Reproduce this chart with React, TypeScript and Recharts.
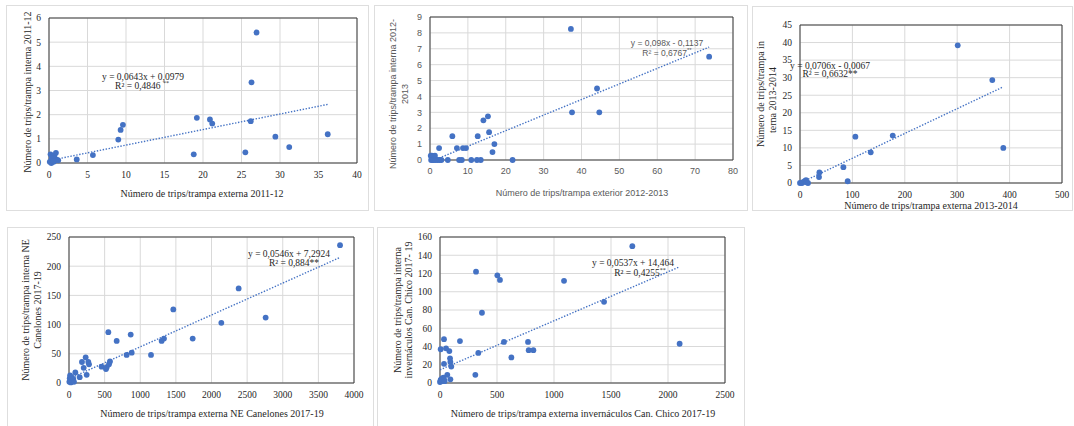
import { CartesianGrid, ReferenceArea, ReferenceLine, Scatter, ScatterChart, XAxis, YAxis } from "recharts"

const BLUE = "#4472C4"
const SERIF = '"Liberation Serif", "Times New Roman", serif'
const SANS = '"Liberation Sans", Arial, sans-serif'

// 2011-12
const x2011 = [0.1, 0.2, 0.3, 0.4, 0.5, 0.6, 0.7, 0.8, 0.9, 1.0, 1.2, 0.35, 0.55, 3.6, 5.7, 9.0, 9.3, 9.6, 18.8, 19.2, 20.9, 21.2, 25.5, 26.2, 26.3, 26.95, 29.4, 31.2, 36.2]
const y2011 = [0.05, 0.36, 0.0, 0.12, 0.25, 0.05, 0.3, 0.1, 0.42, 0.14, 0.11, 0.2, 0.08, 0.15, 0.33, 0.97, 1.37, 1.58, 0.36, 1.87, 1.8, 1.63, 0.44, 1.73, 3.34, 5.4, 1.09, 0.66, 1.19]
const xTicks2011 = [0, 5, 10, 15, 20, 25, 30, 35, 40]
const yTicks2011 = [0, 1, 2, 3, 4, 5, 6]

// 2012-2013
const x2012 = [0.2, 0.5, 0.9, 1.3, 0.3, 0.7, 1.0, 1.5, 2.0, 2.5, 3.0, 2.4, 4.7, 5.9, 7.1, 7.7, 8.4, 8.7, 9.5, 10.9, 12.4, 12.6, 13.4, 14.1, 15.3, 15.6, 16.5, 17.0, 21.8, 37.2, 37.5, 44.1, 44.7, 73.7]
const y2012 = [0.27, 0.27, 0.25, 0.27, 0, 0, 0, 0, 0, 0, 0, 0.75, 0, 1.5, 0.75, 0, 0, 0.75, 0.75, 0, 0, 1.5, 0, 2.5, 2.75, 1.75, 0.5, 1.0, 0, 8.25, 3.0, 4.5, 3.0, 6.5]
const xTicks2012 = [0, 10, 20, 30, 40, 50, 60, 70, 80]
const yTicks2012 = [0, 1, 2, 3, 4, 5, 6, 7, 8, 9]

// 2013-2014
const x2013 = [0, 3.8, 6.4, 9.6, 11.5, 12.7, 15.3, 36.3, 37, 82.8, 91, 105.7, 135, 177, 301, 367, 388]
const y2013 = [0, 0, 0.3, 0.6, 0.8, 0.2, 0, 1.7, 3.0, 4.5, 0.5, 13.2, 8.75, 13.5, 39.2, 29.3, 10.0]
const xTicks2013 = [0, 100, 200, 300, 400, 500]
const yTicks2013 = [0, 5, 10, 15, 20, 25, 30, 35, 40, 45]

// NE Canelones 2017-19
const xNE = [5, 10, 15, 20, 25, 30, 40, 50, 60, 70, 35, 89, 150, 182, 206, 234, 248, 271, 281, 458, 519, 529, 552, 561, 575, 669, 809, 866, 880, 1151, 1300, 1333, 1464, 1736, 2138, 2381, 2760, 3804]
const yNE = [2, 8, 13, 4, 1, 6, 3, 5, 7, 2, 10, 18, 10, 36, 26, 44, 14, 36, 32, 28, 24, 27, 87, 32, 37, 72, 48, 83, 52, 48, 72, 76, 126, 76, 103, 162, 112, 236]
const xTicksNE = [0, 500, 1000, 1500, 2000, 2500, 3000, 3500, 4000]
const yTicksNE = [0, 50, 100, 150, 200, 250]

// invernáculos Can. Chico 2017-19
const xCC = [0, 5, 10, 15, 20, 25, 30, 35, 40, 6, 35, 35, 53, 64, 82, 88, 91, 99, 91, 175, 310, 316, 336, 368, 503, 526, 561, 626, 772, 778, 819, 1088, 1439, 1687, 2102]
const yCC = [1, 3, 4, 2, 5, 3, 6, 4, 2, 37, 48, 21, 38, 9, 35, 27, 23, 18, 4, 46, 9, 122, 33, 77, 118, 113, 45, 28, 45, 36, 36, 112, 89, 150, 43]
const xTicksCC = [0, 500, 1000, 1500, 2000, 2500]
const yTicksCC = [0, 20, 40, 60, 80, 100, 120, 140, 160]

type Box = { x: number; y: number; w: number; h: number }
type Plot = { x0: number; y0: number; x1: number; y1: number }

interface PanelProps {
  box: Box
  plot: Plot
  xs: number[]
  ys: number[]
  xTicks: number[]
  yTicks: number[]
  slope: number
  intercept: number
  font: string
  color: string
  fontSize: number
}

const Y_W = 30
const X_H = 20

function Dot(props: any) {
  return <circle cx={props.cx} cy={props.cy} r={2.9} fill={BLUE} />
}

function Panel({ box, plot, xs, ys, xTicks, yTicks, slope, intercept, font, color, fontSize }: PanelProps) {
  const points = xs.map((x, i) => ({ x, y: ys[i] }))
  const margin = {
    left: plot.x0 - (box.x + 1) - Y_W,
    top: plot.y0 - (box.y + 1),
    right: box.x + box.w - 1 - plot.x1,
    bottom: box.y + box.h - 1 - plot.y1 - X_H,
  }
  const xMax = xTicks[xTicks.length - 1]
  const yMax = yTicks[yTicks.length - 1]
  const lo = Math.min(...xs)
  const hi = Math.max(...xs)
  const tick = { fontSize, fill: color, fontFamily: font }

  return (
    <div
      style={{
        position: "absolute",
        left: box.x,
        top: box.y,
        width: box.w,
        height: box.h,
        boxSizing: "border-box",
        border: "1px solid #dedede",
        background: "#fff",
      }}
    >
      <ScatterChart width={box.w - 2} height={box.h - 2} margin={margin}>
        <CartesianGrid stroke="#d9d9d9" />
        <XAxis type="number" dataKey="x" domain={[0, xMax]} ticks={xTicks} interval={0} height={X_H}
          axisLine={false} tickLine={false} tick={tick} tickSize={4} tickMargin={4} />
        <YAxis type="number" dataKey="y" domain={[0, yMax]} ticks={yTicks} interval={0} width={Y_W}
          axisLine={false} tickLine={false} tick={tick} tickSize={4} tickMargin={4} />
        <ReferenceArea x1={0} x2={xMax} y1={0} y2={yMax} fill="none" stroke="#3a3a3a" strokeWidth={1} ifOverflow="visible" />
        <ReferenceLine
          segment={[{ x: lo, y: slope * lo + intercept }, { x: hi, y: slope * hi + intercept }]}
          stroke={BLUE} strokeWidth={1.4} strokeDasharray="1.4 1.6" ifOverflow="hidden"
        />
        <Scatter data={points} shape={Dot} isAnimationActive={false} />
      </ScatterChart>
    </div>
  )
}

function Sup({ children }: { children: string }) {
  return <tspan fontSize={6} dy={-3}>{children}</tspan>
}

function Labels() {
  const serif = { fontFamily: SERIF, fill: "#262626", fontSize: 10 }
  const serifEq = { fontFamily: SERIF, fill: "#262626", fontSize: 9.5 }
  const sans = { fontFamily: SANS, fill: "#595959", fontSize: 9 }
  const rot = (x: number, y: number) => `rotate(-90 ${x} ${y})`
  return (
    <svg width={1074} height={426} style={{ position: "absolute", left: 0, top: 0, pointerEvents: "none" }}>
      {/* 2011-12 */}
      <text x={202} y={193} textAnchor="middle" dominantBaseline="central" {...serif}>Número de trips/trampa externa 2011-12</text>
      <text x={27} y={92} transform={rot(27, 92)} textAnchor="middle" dominantBaseline="central" {...serif}>Número de trips/trampa interna 2011-12</text>
      <text x={143} y={77} textAnchor="middle" dominantBaseline="central" {...serifEq}>y = 0,0643x + 0,0979</text>
      <text x={142} y={86} textAnchor="middle" dominantBaseline="central" {...serifEq}>R² = 0,4846 <Sup>**</Sup></text>

      {/* 2012-2013 */}
      <text x={582} y={193} textAnchor="middle" dominantBaseline="central" {...sans}>Número de trips/trampa exterior 2012-2013</text>
      <text x={393} y={94} transform={rot(393, 94)} textAnchor="middle" dominantBaseline="central" {...sans}>Número de trips/trampa interna 2012-</text>
      <text x={405} y={94} transform={rot(405, 94)} textAnchor="middle" dominantBaseline="central" {...sans}>2013</text>
      <text x={667} y={43} textAnchor="middle" dominantBaseline="central" {...sans} fontSize={8.5}>y = 0,098x - 0,1137</text>
      <text x={667} y={53} textAnchor="middle" dominantBaseline="central" {...sans} fontSize={8.5}>R² = 0,6767<Sup>**</Sup></text>

      {/* 2013-2014 */}
      <text x={931} y={205} textAnchor="middle" dominantBaseline="central" {...serif}>Número de trips/trampa externa 2013-2014</text>
      <text x={760} y={94} transform={rot(760, 94)} textAnchor="middle" dominantBaseline="central" {...serif}>Número de trips/trampa in</text>
      <text x={772} y={100} transform={rot(772, 100)} textAnchor="middle" dominantBaseline="central" {...serif}>terna 2013-2014</text>
      <text x={830} y={66} textAnchor="middle" dominantBaseline="central" {...serifEq}>y = 0,0706x - 0,0067</text>
      <text x={830} y={74} textAnchor="middle" dominantBaseline="central" {...serifEq}>R² = 0,6632**</text>

      {/* NE Canelones */}
      <text x={212} y={413} textAnchor="middle" dominantBaseline="central" {...serif}>Número de trips/trampa externa NE Canelones 2017-19</text>
      <text x={25} y={310} transform={rot(25, 310)} textAnchor="middle" dominantBaseline="central" {...serif}>Número de trips/trampa interna NE</text>
      <text x={37} y={310} transform={rot(37, 310)} textAnchor="middle" dominantBaseline="central" {...serif}>Canelones 2017-19</text>
      <text x={289} y={254} textAnchor="middle" dominantBaseline="central" {...serifEq}>y = 0,0546x + 7,2924</text>
      <text x={294} y={263} textAnchor="middle" dominantBaseline="central" {...serifEq}>R² = 0,884**</text>

      {/* Can. Chico */}
      <text x={583} y={413} textAnchor="middle" dominantBaseline="central" {...serif}>Número de trips/trampa externa invernáculos Can. Chico 2017-19</text>
      <text x={397} y={310} transform={rot(397, 310)} textAnchor="middle" dominantBaseline="central" {...serif}>Número de trips/trampa interna</text>
      <text x={408} y={310} transform={rot(408, 310)} textAnchor="middle" dominantBaseline="central" {...serif}>invernáculos Can. Chico 2017- 19</text>
      <text x={633} y={263} textAnchor="middle" dominantBaseline="central" {...serifEq}>y = 0,0537x + 14,464</text>
      <text x={640} y={273} textAnchor="middle" dominantBaseline="central" {...serifEq}>R² = 0,4255<Sup>**</Sup></text>
    </svg>
  )
}

export default function App() {
  return (
    <div style={{ position: "absolute", left: 0, top: 0, width: 1074, height: 426, overflow: "hidden", background: "#fff" }}>
      <Panel box={{ x: 6, y: 5, w: 363, h: 206 }} plot={{ x0: 49, y0: 18, x1: 357, y1: 163 }}
        xs={x2011} ys={y2011} xTicks={xTicks2011} yTicks={yTicks2011} slope={0.0643} intercept={0.0979}
        font={SERIF} color="#262626" fontSize={9.5} />
      <Panel box={{ x: 374, y: 5, w: 374, h: 206 }} plot={{ x0: 430, y0: 17, x1: 733, y1: 160 }}
        xs={x2012} ys={y2012} xTicks={xTicks2012} yTicks={yTicks2012} slope={0.098} intercept={-0.1137}
        font={SANS} color="#595959" fontSize={9} />
      <Panel box={{ x: 752, y: 6, w: 321, h: 205 }} plot={{ x0: 800, y0: 25, x1: 1062, y1: 183 }}
        xs={x2013} ys={y2013} xTicks={xTicks2013} yTicks={yTicks2013} slope={0.0706} intercept={-0.0067}
        font={SERIF} color="#262626" fontSize={9.5} />
      <Panel box={{ x: 7, y: 227, w: 367, h: 210 }} plot={{ x0: 69, y0: 237, x1: 354, y1: 383 }}
        xs={xNE} ys={yNE} xTicks={xTicksNE} yTicks={yTicksNE} slope={0.0546} intercept={7.2924}
        font={SERIF} color="#262626" fontSize={9.5} />
      <Panel box={{ x: 377, y: 227, w: 368, h: 210 }} plot={{ x0: 440, y0: 237, x1: 725, y1: 383 }}
        xs={xCC} ys={yCC} xTicks={xTicksCC} yTicks={yTicksCC} slope={0.0537} intercept={14.464}
        font={SERIF} color="#262626" fontSize={9.5} />
      <Labels />
    </div>
  )
}
